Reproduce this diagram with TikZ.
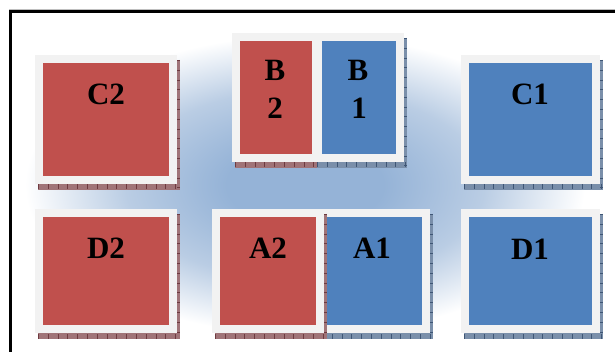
\documentclass[tikz,border=0pt]{standalone}
\usepackage{fontspec}
\setmainfont{Liberation Serif}
\definecolor{tilered}{HTML}{C0504D}
\definecolor{tileblue}{HTML}{4F81BD}
\definecolor{framegray}{HTML}{F2F2F2}
\definecolor{glowblue}{RGB}{149,179,215}
\definecolor{glowmid}{RGB}{186,205,228}
\definecolor{redshade}{HTML}{A07478}
\definecolor{redtick}{HTML}{6E3B40}
\definecolor{blueshade}{HTML}{7A8FAA}
\definecolor{bluetick}{HTML}{3F5675}
\pgfdeclareradialshading{glow}{\pgfpoint{0bp}{0bp}}{color(0bp)=(glowblue); color(7bp)=(glowblue); color(16bp)=(glowmid); color(25bp)=(white); color(50bp)=(white)}
\tikzset{
  tile/.style={draw=framegray, line width=8pt, inner sep=0pt},
  lbl/.style={font=\fontsize{31}{36}\selectfont\bfseries, text=black, inner sep=0pt, anchor=base},
}
% shadow: x0 y0 x1 y1 fill tick
\newcommand\tileshadow[6]{%
  \fill[#5] ({#1+3},{#2+5}) rectangle ({#3+3},{#4+6});
  \draw[#6, line width=5pt, dash pattern=on 0.8pt off 9pt] ({#1+3},{#4+3}) -- ({#3+3},{#4+3});
  \draw[#6, line width=2.5pt, dash pattern=on 0.8pt off 9pt] ({#3+1.5},{#2+5}) -- ({#3+1.5},{#4+6});
}
\begin{document}
\begin{tikzpicture}[x=1pt,y=-1pt]
\useasboundingbox (0,0) rectangle (615,352);
\clip (0,0) rectangle (615,352);
\fill[white] (0,0) rectangle (615,352);
\begin{scope}
  \clip (12,13) rectangle (620,360);
  \shade[shading=glow] (25,35) rectangle (585,335);
\end{scope}
\draw[gray!50, line width=0.7pt] (9,9.3) -- (615,9.3);
\draw[line width=3pt] (10.5,400) -- (10.5,11.5) -- (700,11.5);

% C2
\tileshadow{35}{55}{177}{184}{redshade}{redtick}
\node[tile, fill=tilered, minimum width=134pt, minimum height=121pt] (c2) at (106,119.5) {};
% C1
\tileshadow{461}{55}{600}{184}{blueshade}{bluetick}
\node[tile, fill=tileblue, minimum width=131pt, minimum height=121pt] (c1) at (530.5,119.5) {};
% D2
\tileshadow{35}{209}{177}{333}{redshade}{redtick}
\node[tile, fill=tilered, minimum width=134pt, minimum height=116pt] (d2) at (106,271) {};
% D1
\tileshadow{461}{209}{600}{333}{blueshade}{bluetick}
\node[tile, fill=tileblue, minimum width=131pt, minimum height=116pt] (d1) at (530.5,271) {};
% B2, B1
\tileshadow{232}{33}{320}{162}{redshade}{redtick}
\node[tile, fill=tilered, minimum width=80pt, minimum height=121pt] (b2) at (276,97.5) {};
\tileshadow{314}{33}{404}{162}{blueshade}{bluetick}
\node[tile, fill=tileblue, minimum width=82pt, minimum height=121pt] (b1) at (359,97.5) {};
% A1, A2
\tileshadow{319}{209}{430}{333}{blueshade}{bluetick}
\node[tile, fill=tileblue, minimum width=103pt, minimum height=116pt] (a1) at (374.5,271) {};
\tileshadow{212}{209}{324}{333}{redshade}{redtick}
\node[tile, fill=tilered, minimum width=104pt, minimum height=116pt] (a2) at (268,271) {};

% labels
\node[lbl] (lc2) at (106,105) {C2};
\node[lbl] (lc1) at (530,105) {C1};
\node[lbl] (ld2) at (106,259) {D2};
\node[lbl] (ld1) at (530,260) {D1};
\node[lbl] (la2) at (268,259) {A2};
\node[lbl] (la1) at (372,259) {A1};
\node[lbl] (lb2a) at (275,81) {B};
\node[lbl] (lb2b) at (275,119) {2};
\node[lbl] (lb1a) at (358,81) {B};
\node[lbl] (lb1b) at (359,119) {1};
\end{tikzpicture}
\end{document}
